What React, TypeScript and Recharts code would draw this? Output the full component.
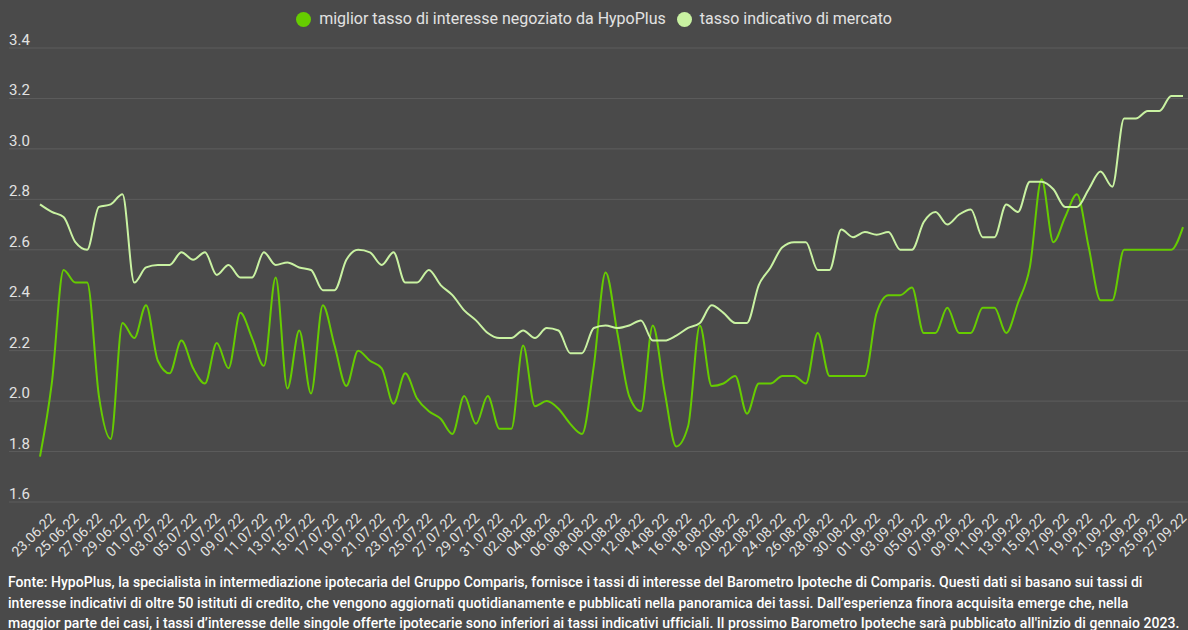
import React from 'react';
import { LineChart, Line, XAxis, YAxis, CartesianGrid } from 'recharts';

const dates = [
  '23.06.22','24.06.22','25.06.22','26.06.22','27.06.22','28.06.22','29.06.22','30.06.22',
  '01.07.22','02.07.22','03.07.22','04.07.22','05.07.22','06.07.22','07.07.22','08.07.22','09.07.22','10.07.22',
  '11.07.22','12.07.22','13.07.22','14.07.22','15.07.22','16.07.22','17.07.22','18.07.22','19.07.22','20.07.22',
  '21.07.22','22.07.22','23.07.22','24.07.22','25.07.22','26.07.22','27.07.22','28.07.22','29.07.22','30.07.22','31.07.22',
  '01.08.22','02.08.22','03.08.22','04.08.22','05.08.22','06.08.22','07.08.22','08.08.22','09.08.22','10.08.22',
  '11.08.22','12.08.22','13.08.22','14.08.22','15.08.22','16.08.22','17.08.22','18.08.22','19.08.22','20.08.22',
  '21.08.22','22.08.22','23.08.22','24.08.22','25.08.22','26.08.22','27.08.22','28.08.22','29.08.22','30.08.22','31.08.22',
  '01.09.22','02.09.22','03.09.22','04.09.22','05.09.22','06.09.22','07.09.22','08.09.22','09.09.22','10.09.22',
  '11.09.22','12.09.22','13.09.22','14.09.22','15.09.22','16.09.22','17.09.22','18.09.22','19.09.22','20.09.22',
  '21.09.22','22.09.22','23.09.22','24.09.22','25.09.22','26.09.22','27.09.22','28.09.22',
];

const hypoPlus = [
  1.78, 2.07, 2.52, 2.47, 2.47, 2.02, 1.85, 2.31, 2.25, 2.38,
  2.16, 2.11, 2.24, 2.13, 2.07, 2.23, 2.13, 2.35, 2.25, 2.14,
  2.49, 2.05, 2.28, 2.03, 2.38, 2.22, 2.06, 2.20, 2.16, 2.13,
  1.99, 2.11, 2.01, 1.96, 1.93, 1.87, 2.02, 1.91, 2.02, 1.89,
  1.89, 2.22, 1.98, 2.00, 1.97, 1.91, 1.87, 2.14, 2.51, 2.27,
  2.02, 1.96, 2.30, 2.04, 1.82, 1.90, 2.30, 2.06, 2.07, 2.10,
  1.95, 2.07, 2.07, 2.10, 2.10, 2.07, 2.27, 2.10, 2.10, 2.10,
  2.10, 2.35, 2.42, 2.42, 2.45, 2.27, 2.27, 2.37, 2.27, 2.27,
  2.37, 2.37, 2.27, 2.39, 2.53, 2.88, 2.63, 2.73, 2.82, 2.61,
  2.40, 2.40, 2.60, 2.60, 2.60, 2.60, 2.60, 2.69,
];

const market = [
  2.78, 2.75, 2.73, 2.63, 2.60, 2.77, 2.78, 2.82, 2.47, 2.53,
  2.54, 2.54, 2.59, 2.56, 2.59, 2.50, 2.54, 2.49, 2.49, 2.59,
  2.54, 2.55, 2.53, 2.52, 2.44, 2.44, 2.56, 2.60, 2.59, 2.54,
  2.59, 2.47, 2.47, 2.52, 2.46, 2.42, 2.36, 2.32, 2.27, 2.25,
  2.25, 2.28, 2.25, 2.29, 2.28, 2.19, 2.19, 2.29, 2.30, 2.29,
  2.30, 2.32, 2.24, 2.24, 2.26, 2.29, 2.31, 2.38, 2.35, 2.31,
  2.31, 2.46, 2.53, 2.61, 2.63, 2.63, 2.52, 2.52, 2.68, 2.65,
  2.67, 2.66, 2.67, 2.60, 2.60, 2.71, 2.75, 2.70, 2.74, 2.76,
  2.65, 2.65, 2.78, 2.75, 2.87, 2.87, 2.84, 2.77, 2.77, 2.84,
  2.91, 2.85, 3.12, 3.12, 3.15, 3.15, 3.21, 3.21,
];

const yTicks = [1.6, 1.8, 2.0, 2.2, 2.4, 2.6, 2.8, 3.0, 3.2, 3.4];

const seriesNames = ['miglior tasso di interesse negoziato da HypoPlus', 'tasso indicativo di mercato'];
const seriesColors = ['#66cc00', '#c9f2a2'];

const footerLines = [
  'Fonte: HypoPlus, la specialista in intermediazione ipotecaria del Gruppo Comparis, fornisce i tassi di interesse del Barometro Ipoteche di Comparis. Questi dati si basano sui tassi di',
  'interesse indicativi di oltre 50 istituti di credito, che vengono aggiornati quotidianamente e pubblicati nella panoramica dei tassi. Dall\u2019esperienza finora acquisita emerge che, nella',
  'maggior parte dei casi, i tassi d\u2019interesse delle singole offerte ipotecarie sono inferiori ai tassi indicativi ufficiali. Il prossimo Barometro Ipoteche sar\u00e0 pubblicato all\'inizio di gennaio 2023.',
];

const data = dates.map((d, i) => ({ date: d, hypo: hypoPlus[i], market: market[i] }));

const BG = '#4a4a4a';
const TEXT = '#e2e2e2';
const FONT = 'Roboto, sans-serif';

const XTick = (props: any) => {
  const { x, y, payload } = props;
  return (
    <g transform={`translate(${x},${y})`}>
      <text x={16} y={17} textAnchor="end" fill={TEXT} fontSize={14} fontFamily={FONT} transform="rotate(-45 16 17)">
        {payload.value}
      </text>
    </g>
  );
};

const YTick = (props: any) => {
  const { y, payload } = props;
  return (
    <text x={9} y={y - 3} textAnchor="start" fill={TEXT} fontSize={15} fontFamily={FONT}>
      {Number(payload.value).toFixed(1)}
    </text>
  );
};

export default function App() {
  return (
    <div style={{ position: 'fixed', left: 0, top: 0, width: 1188, height: 630, background: BG, overflow: 'hidden', fontFamily: FONT }}>
      <div style={{ position: 'absolute', top: 9, left: 0, width: 1188, display: 'flex', justifyContent: 'center', alignItems: 'center', color: TEXT, fontSize: 16, lineHeight: '20px', whiteSpace: 'nowrap' }}>
        {seriesNames.map((n, i) => (
          <div key={n} style={{ display: 'flex', alignItems: 'center', marginLeft: i === 0 ? 0 : 11 }}>
            <span style={{ display: 'inline-block', width: 15, height: 15, borderRadius: '50%', background: seriesColors[i], marginRight: 8 }} />
            <span>{n}</span>
          </div>
        ))}
      </div>
      <div style={{ position: 'absolute', left: 0, top: 0 }}>
        <LineChart width={1188} height={560} data={data} margin={{ top: 48, right: 0, left: 0, bottom: 2 }}>
          <CartesianGrid vertical={false} stroke="#5d5d5d" strokeWidth={1} />
          <XAxis
            dataKey="date"
            interval={1}
            height={56}
            tickSize={0}
            tickMargin={0}
            axisLine={false}
            tickLine={false}
            padding={{ left: 31, right: 5 }}
            tick={<XTick />}
          />
          <YAxis
            width={9}
            domain={[1.6, 3.4]}
            ticks={yTicks}
            axisLine={false}
            tickLine={false}
            tick={<YTick />}
            interval={0}
          />
          <Line type="monotone" dataKey="hypo" stroke={seriesColors[0]} strokeWidth={2} dot={false} isAnimationActive={false} />
          <Line type="monotone" dataKey="market" stroke={seriesColors[1]} strokeWidth={2} dot={false} isAnimationActive={false} />
        </LineChart>
      </div>
      <div style={{ position: 'absolute', left: 8, top: 572, color: '#ffffff', fontSize: 14, fontWeight: 500, letterSpacing: '0.05px', lineHeight: '20.5px', whiteSpace: 'nowrap' }}>
        {footerLines.map((l) => (
          <div key={l}>{l}</div>
        ))}
      </div>
    </div>
  );
}
